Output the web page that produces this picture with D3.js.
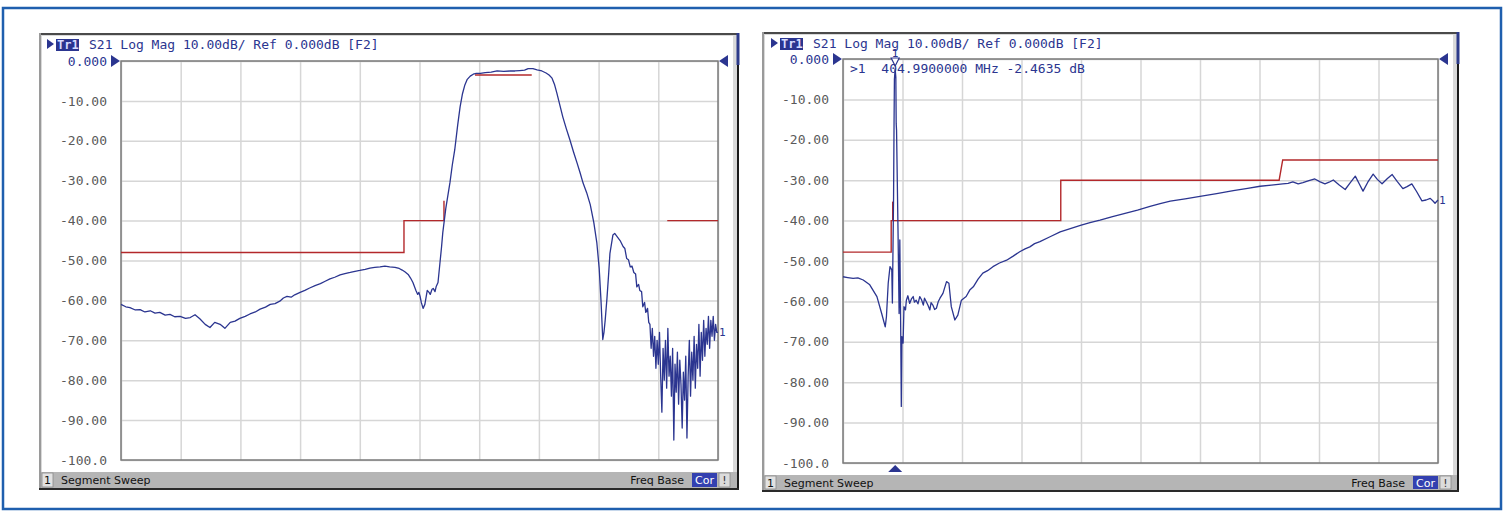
<!DOCTYPE html>
<html>
<head>
<meta charset="utf-8">
<script src="https://cdn.jsdelivr.net/npm/d3@7"></script>
<style>
  body { margin: 0; background: #fff; }
  svg { display: block; }
  .mono { font-family: "DejaVu Sans Mono", monospace; white-space: pre; }
  .sans { font-family: "DejaVu Sans", sans-serif; }
</style>
</head>
<body>
<div id="chart"></div>
<script>
// y tick values and labels (same on both screens)
var yTicks = [0, -10, -20, -30, -40, -50, -60, -70, -80, -90, -100];
var yLabels = ['0.000', '-10.00', '-20.00', '-30.00', '-40.00', '-50.00', '-60.00', '-70.00', '-80.00', '-90.00', '-100.0'];
var xDivs = [0, 1, 2, 3, 4, 5, 6, 7, 8, 9, 10];

var titleText = 'S21 Log Mag 10.00dB/ Ref 0.000dB [F2]';
var markerText = '>1  404.9900000 MHz -2.4635 dB';

// left screen: trace [division, dB]
var leftTrace = [
  [0.00, -61.0], [0.08, -61.6], [0.15, -61.8], [0.24, -62.4], [0.32, -62.3], [0.40, -62.9], [0.49, -62.6],
  [0.57, -63.2], [0.65, -63.0], [0.74, -63.7], [0.82, -63.5], [0.90, -64.1], [0.99, -64.0], [1.08, -64.5],
  [1.16, -64.3], [1.24, -63.6], [1.32, -64.6], [1.41, -66.0], [1.49, -66.8], [1.57, -65.5], [1.66, -66.0],
  [1.74, -67.0], [1.83, -65.5], [1.91, -65.2], [1.99, -64.5], [2.08, -64.0], [2.16, -63.4], [2.25, -62.9],
  [2.33, -62.2], [2.42, -61.7], [2.50, -61.0], [2.58, -60.8], [2.66, -60.2], [2.72, -59.4], [2.78, -59.0],
  [2.85, -59.2], [2.91, -58.6], [3.00, -58.0], [3.08, -57.5], [3.16, -56.9], [3.25, -56.3], [3.34, -55.8],
  [3.42, -55.2], [3.50, -54.6], [3.58, -54.2], [3.67, -53.6], [3.75, -53.3], [3.84, -53.0], [3.92, -52.7],
  [4.00, -52.5], [4.09, -52.2], [4.17, -51.9], [4.25, -51.7], [4.34, -51.6], [4.42, -51.4], [4.50, -51.6],
  [4.59, -51.7], [4.66, -52.0], [4.71, -52.4], [4.76, -52.9], [4.81, -53.5], [4.85, -54.4], [4.89, -55.5],
  [4.94, -57.5], [4.97, -58.5], [4.99, -58.0], [5.01, -59.0], [5.03, -60.5], [5.06, -62.0], [5.09, -61.0],
  [5.13, -57.5], [5.16, -58.0], [5.18, -58.5], [5.21, -57.2], [5.23, -57.0], [5.26, -57.8], [5.28, -56.5],
  [5.31, -55.5], [5.34, -51.0], [5.37, -46.5], [5.39, -43.0], [5.44, -37.0], [5.51, -30.5], [5.55, -26.0],
  [5.59, -22.3], [5.64, -16.0], [5.68, -11.5], [5.72, -8.2], [5.76, -6.0], [5.80, -4.6], [5.85, -3.8],
  [5.90, -3.3], [5.95, -3.1], [6.02, -3.1], [6.10, -2.9], [6.20, -2.8], [6.30, -2.5], [6.41, -2.6],
  [6.52, -2.5], [6.60, -2.5], [6.68, -2.4], [6.76, -2.3], [6.82, -1.9], [6.90, -1.9], [6.97, -2.2],
  [7.05, -2.5], [7.12, -3.0], [7.17, -3.5], [7.22, -4.3], [7.26, -5.8], [7.30, -8.0], [7.35, -11.0],
  [7.40, -14.0], [7.46, -17.0], [7.52, -19.8], [7.58, -22.8], [7.64, -25.6], [7.69, -28.0], [7.74, -30.6],
  [7.80, -33.0], [7.86, -36.0], [7.92, -40.5], [7.97, -45.5], [8.01, -52.0], [8.04, -60.0], [8.07, -69.8],
  [8.09, -68.0], [8.11, -65.0], [8.14, -59.5], [8.17, -53.0], [8.19, -48.2], [8.24, -43.6], [8.27, -43.2],
  [8.31, -44.0], [8.36, -45.0], [8.41, -46.5], [8.44, -47.0], [8.47, -49.5], [8.50, -49.8], [8.53, -51.6],
  [8.56, -51.4], [8.59, -53.0], [8.62, -53.4], [8.64, -56.6], [8.67, -56.0], [8.69, -57.5], [8.72, -57.8],
  [8.74, -61.6], [8.77, -60.5], [8.79, -63.0], [8.82, -62.0], [8.84, -65.5],
  [8.86, -66], [8.88, -72], [8.90, -67], [8.92, -74], [8.94, -69], [8.96, -77], [8.98, -70], [9.00, -76],
  [9.02, -68], [9.04, -79], [9.06, -88], [9.08, -72], [9.10, -80], [9.12, -70], [9.14, -82], [9.16, -67],
  [9.18, -79], [9.20, -74], [9.22, -84], [9.24, -72], [9.26, -95], [9.28, -76], [9.30, -83], [9.32, -73],
  [9.34, -86], [9.36, -75], [9.38, -81], [9.40, -92], [9.42, -78], [9.44, -85], [9.46, -74], [9.48, -94.5],
  [9.50, -79], [9.52, -70], [9.54, -84], [9.56, -73], [9.58, -80], [9.60, -69], [9.62, -82], [9.64, -71],
  [9.66, -77], [9.68, -66], [9.70, -79], [9.72, -68], [9.74, -75], [9.76, -65], [9.78, -74], [9.80, -67],
  [9.82, -71], [9.84, -64], [9.86, -72], [9.88, -65], [9.90, -69], [9.92, -64], [9.94, -70], [9.96, -66],
  [9.98, -68], [10.00, -68]
];

// left screen: limit lines
var leftLimits = [
  [[0, -48], [4.74, -48], [4.74, -40], [5.41, -40], [5.41, -35]],
  [[5.93, -3.5], [6.88, -3.5]],
  [[9.15, -40], [10, -40]]
];

// right screen: trace [division, dB]
var rightTrace = [
  [0.00, -53.9], [0.08, -54.1], [0.17, -54.3], [0.25, -54.2], [0.34, -54.7], [0.45, -55.9], [0.57, -58.8],
  [0.65, -63.0], [0.71, -66.3], [0.73, -63.8], [0.76, -55.5], [0.79, -51.4], [0.82, -52.2], [0.83, -60.4],
  [0.85, -34.0], [0.858, -15.9], [0.864, -5.0], [0.877, -2.46], [0.888, -4.5], [0.894, -16.0], [0.90, -17.6],
  [0.926, -44.0], [0.943, -63.0], [0.955, -44.8], [0.97, -67.0], [0.98, -86.0], [0.99, -68.7], [1.01, -70.3],
  [1.025, -61.3], [1.05, -62.1],
  [1.065, -59.7], [1.09, -58.6], [1.12, -60.5], [1.15, -59.4], [1.18, -58.8], [1.20, -60.2], [1.23, -59.7],
  [1.26, -60.6], [1.29, -58.8], [1.32, -59.6], [1.35, -60.9], [1.37, -59.2], [1.40, -60.1], [1.43, -61.0],
  [1.46, -62.1], [1.48, -60.3], [1.51, -60.9], [1.54, -62.0], [1.57, -61.7], [1.60, -60.1], [1.63, -59.2],
  [1.68, -58.0], [1.74, -55.1], [1.78, -55.5], [1.82, -61.3], [1.88, -64.6], [1.93, -63.4], [1.99, -59.7],
  [2.07, -58.8], [2.13, -57.2], [2.19, -56.4], [2.27, -54.5], [2.35, -53.0], [2.43, -52.4], [2.52, -51.4],
  [2.63, -50.5], [2.75, -49.8], [2.86, -48.8], [2.97, -47.7], [3.06, -47.0], [3.14, -46.5], [3.22, -45.7],
  [3.31, -45.2], [3.48, -44.0], [3.65, -42.8], [3.82, -42.0], [3.99, -41.2], [4.15, -40.5], [4.32, -39.9],
  [4.53, -39.0], [4.74, -38.2], [4.95, -37.4], [5.16, -36.5], [5.33, -35.8], [5.50, -35.2], [5.75, -34.6],
  [6.00, -34.0], [6.28, -33.3], [6.56, -32.6], [6.80, -32.0], [7.01, -31.5], [7.20, -31.2], [7.39, -30.9],
  [7.48, -30.8], [7.56, -30.4], [7.65, -30.9], [7.73, -30.6], [7.83, -30.1], [7.93, -29.7], [8.02, -30.4],
  [8.10, -30.9], [8.17, -30.5], [8.24, -29.95], [8.34, -31.2], [8.44, -32.3], [8.52, -30.7], [8.61, -29.0],
  [8.68, -31.0], [8.74, -32.7], [8.82, -30.5], [8.91, -28.5], [8.98, -29.8], [9.06, -30.9], [9.15, -29.6],
  [9.23, -28.6], [9.32, -30.4], [9.41, -32.1], [9.48, -31.6], [9.56, -30.9], [9.64, -32.8], [9.73, -35.1],
  [9.80, -34.9], [9.87, -34.5], [9.92, -35.2], [9.95, -35.7], [10.00, -34.9]
];

// right screen: limit lines
var rightLimits = [
  [[0, -47.8], [0.81, -47.8], [0.81, -40], [3.66, -40], [3.66, -30], [7.33, -30], [7.39, -25], [10, -25]],
  [[0.835, -40], [0.835, -35.3]]
];
var rightMarker = [0.877, -2.46];

var navy = '#2b3590';
var red = '#b3282b';

var svg = d3.select('#chart').append('svg')
  .attr('width', 1506)
  .attr('height', 512);

// outer blue frame
svg.append('rect')
  .attr('x', 3).attr('y', 8).attr('width', 1498).attr('height', 501)
  .attr('fill', 'none').attr('stroke', '#1f5fae').attr('stroke-width', 2.5);

function drawPanel(p) {
  var g = svg.append('g');

  // screen frame
  g.append('rect').attr('x', p.fx).attr('y', p.fy).attr('width', p.fw).attr('height', p.fh)
    .attr('fill', '#d9d9d9');
  g.append('rect').attr('x', p.fx + 3).attr('y', p.fy + 3).attr('width', p.fw - 9).attr('height', p.sy - p.fy - 3)
    .attr('fill', '#fff');
  g.append('line').attr('x1', p.fx).attr('x2', p.fx + p.fw).attr('y1', p.fy + 1).attr('y2', p.fy + 1)
    .attr('stroke', '#4a4a4a').attr('stroke-width', 2);
  g.append('line').attr('x1', p.fx + 1).attr('x2', p.fx + 1).attr('y1', p.fy).attr('y2', p.fy + p.fh)
    .attr('stroke', '#9a9a9a').attr('stroke-width', 2);
  g.append('line').attr('x1', p.fx + p.fw - 1).attr('x2', p.fx + p.fw - 1).attr('y1', p.fy + 32).attr('y2', p.fy + p.fh)
    .attr('stroke', '#1a1a1a').attr('stroke-width', 2);
  g.append('line').attr('x1', p.fx + p.fw - 1).attr('x2', p.fx + p.fw - 1).attr('y1', p.fy).attr('y2', p.fy + 32)
    .attr('stroke', '#2c3a8a').attr('stroke-width', 3);

  // status bar
  g.append('rect').attr('x', p.fx + 2).attr('y', p.sy).attr('width', p.fw - 4).attr('height', p.sh)
    .attr('fill', '#b5b5b5');
  g.append('line').attr('x1', p.fx).attr('x2', p.fx + p.fw).attr('y1', p.sy + p.sh + 1).attr('y2', p.sy + p.sh + 1)
    .attr('stroke', '#2a2a2a').attr('stroke-width', 2);
  g.append('rect').attr('x', p.fx + 3).attr('y', p.sy + 1).attr('width', 11).attr('height', p.sh - 2)
    .attr('fill', '#e2e2e2').attr('stroke', '#8a8a8a').attr('stroke-width', 0.8);
  g.append('text').attr('class', 'sans').attr('x', p.fx + 8.5).attr('y', p.sy + p.sh / 2 + 4)
    .attr('text-anchor', 'middle').attr('font-size', 11).attr('fill', '#111').text('1');
  g.append('text').attr('class', 'sans').attr('x', p.fx + 22).attr('y', p.sy + p.sh / 2 + 4)
    .attr('font-size', 11).attr('fill', '#111').text('Segment Sweep');
  g.append('text').attr('class', 'sans').attr('x', p.corX - 8).attr('y', p.sy + p.sh / 2 + 4)
    .attr('text-anchor', 'end').attr('font-size', 11).attr('fill', '#111').text('Freq Base');
  g.append('rect').attr('x', p.corX).attr('y', p.sy + 1).attr('width', 25).attr('height', p.sh - 2)
    .attr('fill', '#3340b0');
  g.append('text').attr('class', 'sans').attr('x', p.corX + 12.5).attr('y', p.sy + p.sh / 2 + 4)
    .attr('text-anchor', 'middle').attr('font-size', 11).attr('fill', '#fff').text('Cor');
  g.append('rect').attr('x', p.corX + 27).attr('y', p.sy + 1).attr('width', 11).attr('height', p.sh - 2)
    .attr('fill', '#dcdcdc').attr('stroke', '#8a8a8a').attr('stroke-width', 0.8);
  g.append('text').attr('class', 'sans').attr('x', p.corX + 32.5).attr('y', p.sy + p.sh / 2 + 4)
    .attr('text-anchor', 'middle').attr('font-size', 11).attr('fill', '#333').text('!');

  // title line
  g.append('path').attr('d', 'M' + p.tx + ',' + (p.ty - 10) + 'l7,5l-7,5z').attr('fill', navy);
  g.append('rect').attr('x', p.tx + 9).attr('y', p.ty - 10).attr('width', 23).attr('height', 12)
    .attr('fill', navy);
  g.append('text').attr('class', 'mono').attr('x', p.tx + 10).attr('y', p.ty)
    .attr('font-size', 12).attr('font-weight', 'bold').attr('fill', '#d6dcff').text('Tr1');
  g.append('text').attr('class', 'mono').attr('x', p.tx + 42).attr('y', p.ty)
    .attr('font-size', 13).attr('fill', navy).text(titleText);

  var x = d3.scaleLinear().domain([0, 10]).range([p.x0, p.x1]);
  var y = d3.scaleLinear().domain([-100, 0]).range([p.y1, p.y0]);

  // grid
  g.append('g').attr('transform', 'translate(0,' + p.y1 + ')')
    .call(d3.axisBottom(x).tickValues(xDivs).tickSize(-(p.y1 - p.y0)).tickFormat(''))
    .call(function(a) {
      a.select('.domain').remove();
      a.selectAll('line').attr('stroke', '#d6d6d6').attr('stroke-width', 1.5);
    });
  g.append('g').attr('transform', 'translate(' + p.x0 + ',0)')
    .call(d3.axisLeft(y).tickValues(yTicks).tickSize(-(p.x1 - p.x0)).tickPadding(14)
      .tickFormat(function(d, i) { return yLabels[i]; }))
    .call(function(a) {
      a.select('.domain').remove();
      a.selectAll('line').attr('stroke', '#d6d6d6').attr('stroke-width', 1.5);
      a.selectAll('text').attr('class', 'mono').attr('font-size', 13)
        .attr('fill', function(d) { return d === 0 ? navy : '#5a5a5a'; });
    });
  g.append('rect').attr('x', p.x0).attr('y', p.y0).attr('width', p.x1 - p.x0).attr('height', p.y1 - p.y0)
    .attr('fill', 'none').attr('stroke', '#7a7a7a').attr('stroke-width', 1.5);

  // reference triangles
  g.append('path').attr('d', 'M' + (p.x0 - 10) + ',' + (p.y0 - 6) + 'l9,6l-9,6z').attr('fill', navy);
  g.append('path').attr('d', 'M' + (p.x1 + 10) + ',' + (p.y0 - 6) + 'l-9,6l9,6z').attr('fill', navy);

  var line = d3.line().x(function(d) { return x(d[0]); }).y(function(d) { return y(d[1]); });

  g.selectAll('path.limit').data(p.limits).enter().append('path')
    .attr('class', 'limit')
    .attr('d', line)
    .attr('fill', 'none').attr('stroke', red).attr('stroke-width', 1.4);

  g.append('path').datum(p.trace)
    .attr('d', line)
    .attr('fill', 'none').attr('stroke', navy).attr('stroke-width', 1.3)
    .attr('stroke-linejoin', 'round');

  var last = p.trace[p.trace.length - 1];
  g.append('text').attr('class', 'mono').attr('x', x(last[0]) + 1).attr('y', y(last[1]) + 4)
    .attr('font-size', 11).attr('fill', navy).text('1');

  return { x: x, y: y, g: g };
}

drawPanel({
  fx: 39, fy: 33, fw: 700, fh: 457, sy: 472, sh: 16, corX: 692,
  tx: 47, ty: 49,
  x0: 121, x1: 718, y0: 61, y1: 460,
  trace: leftTrace, limits: leftLimits
});

var right = drawPanel({
  fx: 762, fy: 32, fw: 697, fh: 460, sy: 475, sh: 15, corX: 1413,
  tx: 771, ty: 48,
  x0: 843, x1: 1438, y0: 59, y1: 463,
  trace: rightTrace, limits: rightLimits
});

// marker on the right screen
var mx = right.x(rightMarker[0]);
right.g.append('path').attr('d', 'M' + (mx - 4) + ',' + (right.y(0) - 1) + 'l8,0l-4,8z')
  .attr('fill', '#fff').attr('stroke', navy).attr('stroke-width', 1.2);
right.g.append('text').attr('class', 'mono').attr('x', mx).attr('y', right.y(0) - 2)
  .attr('text-anchor', 'middle').attr('font-size', 11).attr('fill', navy).text('1');
right.g.append('path').attr('d', 'M' + (mx - 7) + ',' + (right.y(-100) + 9) + 'l7,-7l7,7z')
  .attr('fill', navy);
right.g.append('text').attr('class', 'mono').attr('x', 850).attr('y', 73)
  .attr('font-size', 13).attr('fill', navy).text(markerText);
</script>
</body>
</html>
